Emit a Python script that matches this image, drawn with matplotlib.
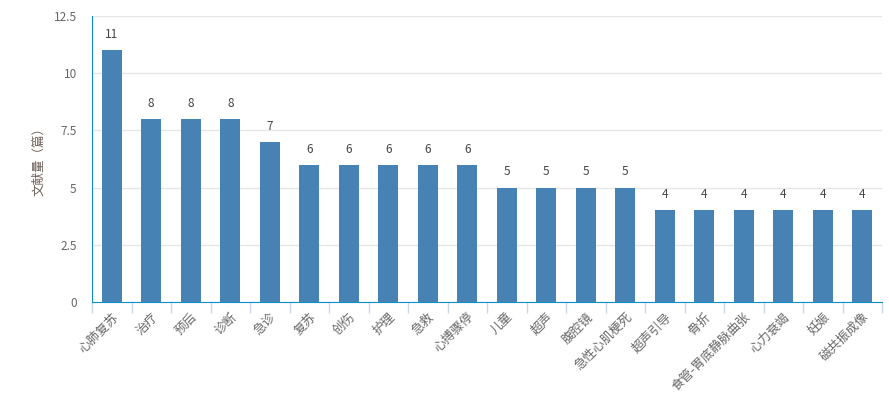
import matplotlib
matplotlib.use("Agg")
import matplotlib.pyplot as plt
import numpy as np

plt.rcParams['font.family'] = ['Noto Sans CJK SC', 'DejaVu Sans']

categories = ['心肺复苏', '治疗', '预后', '诊断', '急诊', '复苏', '创伤', '护理', '急救', '心搏骤停',
              '儿童', '超声', '腹腔镜', '急性心肌梗死', '超声引导', '骨折', '食管-胃底静脉曲张',
              '心力衰竭', '妊娠', '磁共振成像']
counts = [11, 8, 8, 8, 7, 6, 6, 6, 6, 6, 5, 5, 5, 5, 4, 4, 4, 4, 4, 4]
yticks = [0, 2.5, 5, 7.5, 10, 12.5]

fig = plt.figure(figsize=(8.89, 3.98), dpi=100)
ax = fig.add_axes([92 / 889, 1 - 302 / 398, 790 / 889, 286 / 398])

x = np.arange(len(categories))
ax.bar(x, counts, width=0.5, color='#4682b4', zorder=3)
for xi, v in zip(x, counts):
    ax.text(xi, v + 0.4, str(v), ha='center', va='bottom', fontsize=8.5, color='#444444')

ax.set_xlim(-0.5, len(categories) - 0.5)
ax.set_ylim(0, 12.5)
ax.set_yticks(yticks)
ax.set_yticklabels(['0', '2.5', '5', '7.5', '10', '12.5'])
ax.yaxis.grid(True, color='#e6e6e6', linewidth=1, zorder=0)
ax.tick_params(axis='y', length=0, pad=11, labelsize=8.5, labelcolor='#666666')

ax.set_xticks(x)
ax.set_xticklabels(categories, rotation=45, ha='right', rotation_mode='anchor',
                   fontsize=9, color='#666666')
ax.tick_params(axis='x', length=0, pad=6)
ax.set_xticks(np.arange(len(categories) + 1) - 0.5, minor=True)
ax.tick_params(axis='x', which='minor', length=8, color='#ccd6eb', width=1)

for s in ['top', 'right']:
    ax.spines[s].set_visible(False)
ax.spines['left'].set_color('#0d8ecf')
ax.spines['bottom'].set_color('#0d8ecf')

ax.set_ylabel('文献量（篇）', fontsize=9, color='#6b5e57', labelpad=6)

fig.savefig('out.png', dpi=100)
